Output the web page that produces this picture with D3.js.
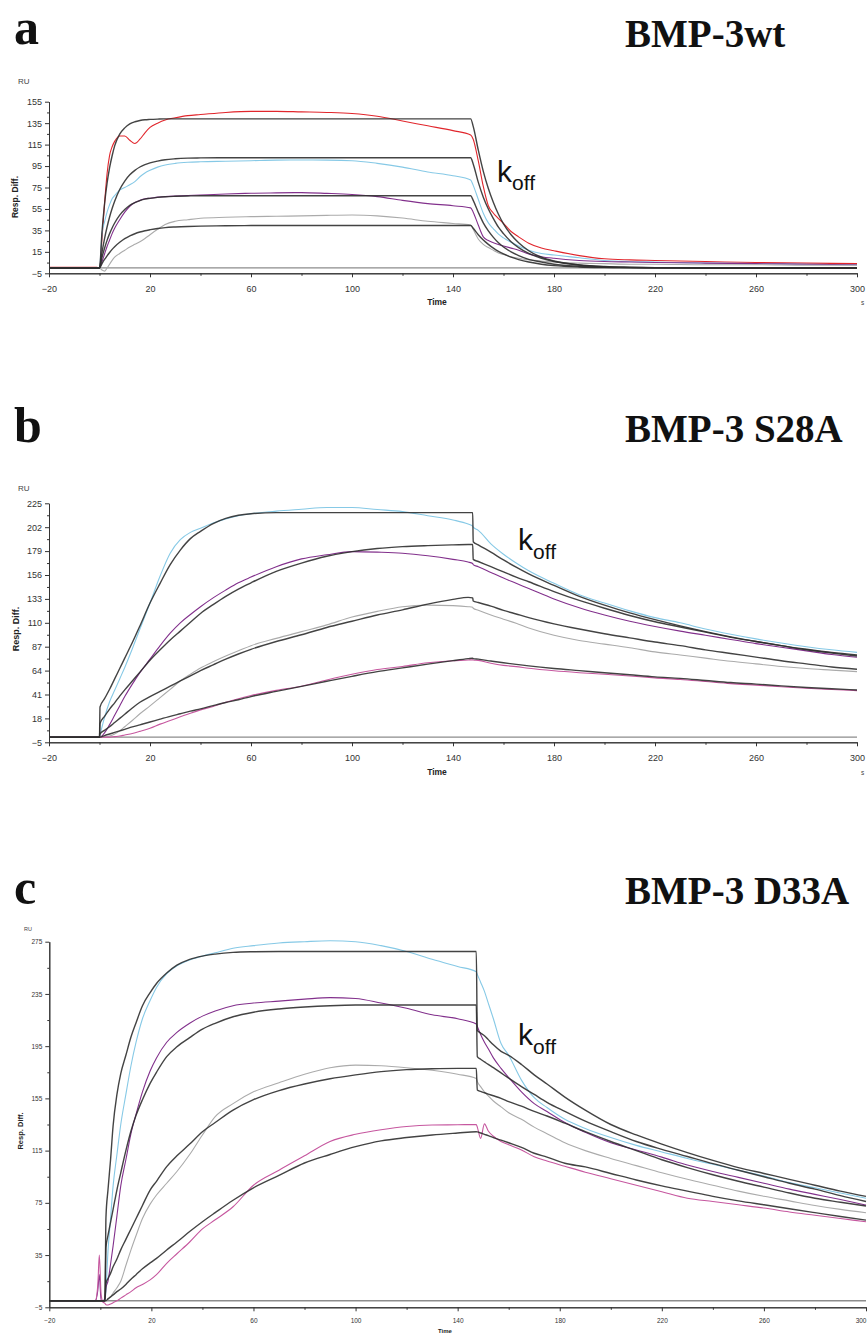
<!DOCTYPE html>
<html>
<head>
<meta charset="utf-8">
<script src="https://cdn.jsdelivr.net/npm/d3@7"></script>
<style>
  body { margin: 0; background: #ffffff; }
  svg { display: block; }
</style>
</head>
<body>
<svg id="fig" width="867" height="1333"></svg>
<script>
// ---------- Panel a : BMP-3wt (time in s, response in RU) ----------
const tA = [-20, -10, -1, 0,
  1, 2, 3, 4, 5, 6,
  8, 10, 12, 14, 16, 18, 20,
  23, 26, 30, 35, 40,
  50, 60, 70, 80, 90, 100, 110, 120, 130, 140,
  147, 148,
  150, 152, 154, 156, 158, 160,
  163, 166, 170, 175, 180,
  190, 200, 210, 220,
  240, 260, 280, 300];
const aRed = [0.5, 0.5, 0.5, 0,
  28, 60, 88, 105, 113, 118,
  123, 123, 119, 116, 120, 126, 131,
  135, 138, 140, 142, 143,
  145, 146, 146, 145.5, 145, 144, 141.5, 137, 132.5, 128,
  124, 120,
  100, 76, 58, 51, 46, 41.5,
  34, 29, 23, 18.5, 16,
  11.5, 8.5, 7.5, 7,
  6, 5, 4.5, 4];
const aCyan = [0, 0, 0, 0,
  32, 43, 52, 59, 64.5, 67.5,
  72.5, 75, 77.5, 80.5, 85, 88.5, 91,
  94, 96, 97.5, 98.5, 99,
  99.5, 100, 100.5, 100.6, 100.5, 100, 97.5, 94, 89.5, 86,
  82, 77,
  64, 51, 42, 36.5, 31.5, 28,
  24, 20.5, 16.5, 13.5, 12,
  9.5, 7, 6, 5.5,
  4.5, 4, 3.5, 3];
const aPurple = [0, 0, 0, 0,
  6, 13, 20, 26, 32, 37,
  45, 52, 57.5, 61, 63, 64.5, 65,
  66, 66.5, 67, 67.5, 68,
  69, 69.6, 70, 70.2, 69.5, 68.5, 66.5, 63, 60, 58,
  56, 52,
  40, 29, 25.5, 23.5, 21.8, 20.5,
  18.5, 16.5, 13, 10.5, 9,
  7, 6, 5.5, 5,
  4.5, 4, 3.5, 3];
const aGray = [0, 0, 0, 0,
  -2, -3, 0, 3.5, 7, 10,
  13.5, 16.5, 19.5, 22, 24.5, 27.5, 31,
  36, 40.5, 43.5, 45, 46.3,
  47.2, 47.8, 48.2, 48.5, 49, 49.3, 48.5, 46.5, 43.5, 41.5,
  40, 36,
  27, 22, 19, 16.5, 14, 12.5,
  10.5, 9, 7.5, 6.5, 5.5,
  4.5, 4, 3.5, 3.5,
  3, 3, 2.5, 2.5];
const aFit1 = [0, 0, 0, 0,
  34, 59.6, 79, 93.5, 104.6, 113.8,
  124.7, 130.6, 134.3, 136.3, 137.5, 138.2, 138.5,
  138.8, 139, 139, 139, 139,
  139, 139, 139, 139, 139, 139, 139, 139, 139, 139,
  139, 132,
  110, 90, 74, 61, 50, 41,
  31, 23.5, 16, 10, 6.5,
  2.7, 1.1, 0.5, 0.2,
  0, 0, 0, 0];
const aFit2 = [0, 0, 0, 0,
  14.8, 27.4, 38.2, 47.5, 55.4, 62.2,
  73.1, 81, 86.8, 91, 94.1, 96.3, 97.9,
  99.6, 100.9, 101.8, 102.4, 102.6,
  102.8, 102.8, 102.8, 102.8, 102.8, 102.8, 102.8, 102.8, 102.8, 102.8,
  102.8, 97,
  80, 66, 55, 46, 38, 32,
  24.5, 19, 13.5, 9, 6,
  2.8, 1.3, 0.6, 0.3,
  0, 0, 0, 0];
const aFit3 = [0, 0, 0, 0,
  9.9, 18.4, 25.7, 32, 37.3, 41.9,
  49.3, 54.5, 58.4, 60.9, 62.8, 64.2, 64.9,
  65.8, 66.4, 66.8, 67.1, 67.3,
  67.3, 67.3, 67.3, 67.3, 67.3, 67.3, 67.3, 67.3, 67.3, 67.3,
  67.3, 63,
  52, 42, 34.5, 28.5, 23.5, 19.5,
  15, 11.5, 8, 5.5, 3.5,
  1.6, 0.7, 0.3, 0.1,
  0, 0, 0, 0];
const aFit4 = [0, 0, 0, 0,
  4.1, 7.9, 11.3, 14.4, 17.3, 19.8,
  23.9, 27.3, 29.8, 31.9, 33.5, 34.7, 35.6,
  36.8, 37.6, 38.2, 38.7, 39,
  39.3, 39.5, 39.5, 39.5, 39.5, 39.5, 39.5, 39.5, 39.5, 39.5,
  39.5, 37,
  31, 26, 22, 18.5, 15.5, 13,
  10, 7.8, 5.5, 3.5, 2.2,
  0.9, 0.4, 0.2, 0.1,
  0, 0, 0, 0];

// ---------- Panel b : BMP-3 S28A ----------
const tB = [-20, -1, 0, 0.2,
  2, 4, 6, 8, 10, 13, 16, 20,
  24, 28, 32, 36, 40, 45, 50, 55, 60,
  70, 80, 90, 100, 110, 120, 130, 140, 146, 147.8,
  148, 150, 155, 160, 165, 170, 180, 190, 200,
  210, 220, 230, 240, 250, 260, 270, 280, 290, 300];
const bCyan = [0, 0, 0, 2,
  19, 34, 45, 56, 67, 85, 104, 129,
  155, 177, 190, 197, 201, 206, 210, 213, 215,
  217.5, 219.3, 221, 221, 219, 217, 213, 209, 205, 203,
  202, 199, 186, 176, 167.5, 160, 148, 137, 129,
  121.5, 115, 110, 104, 99, 94.5, 90.5, 87, 84, 81.5];
const bPurple = [0, 0, 0, 0,
  4, 12, 21, 30, 39, 51, 62, 75,
  88, 100, 110, 118, 125.5, 134, 141.5, 148.5, 154,
  164, 171.5, 175.5, 178.5, 178, 177, 174.5, 171, 168.5, 167,
  166, 164, 158.5, 153, 148, 143, 133, 124.5, 117.5,
  111.5, 106.5, 102, 98, 94, 90, 86.5, 83, 79.5, 76.8];
const bGray = [0, 0, 0, 0,
  0, 1, 3, 6, 10, 16, 22.5, 30,
  38, 46, 54, 60.5, 66.5, 72.5, 78, 83, 88,
  95, 101.5, 108, 115.5, 121, 125.5, 127, 126.5, 125.5, 125,
  124, 122, 117.5, 113.5, 109.5, 105, 98, 93, 89.5,
  86, 82, 79, 76, 73, 70.5, 68, 66, 64.5, 63];
const bMagenta = [0, 0, 0, 0,
  0, 0, 0.5, 1, 2, 3.5, 5.5, 8.5,
  12.5, 16, 19.5, 23, 26.2, 29.5, 33.5, 37, 40,
  45, 49, 55, 60.5, 65, 68, 71.5, 73.5, 74.2, 74.5,
  74.2, 73.8, 71, 69, 67.8, 66.2, 63.8, 62, 60.5,
  58.8, 57, 55.5, 53.5, 51.5, 50, 48.5, 47, 45.8, 44.7];
const bFit1 = [0, 0, 0, 29,
  37, 46, 56, 66, 76, 91, 107, 129,
  148, 166, 180, 191, 198, 205.5, 210.5, 213.5, 215,
  216, 216, 216, 216, 216, 216, 216, 216, 216, 216,
  188, 185, 178, 170.5, 163.5, 157, 146, 135.5, 127,
  119.5, 113, 107, 101.5, 96.5, 92, 88, 84.5, 81.5, 79];
const bFit2 = [0, 0, 0, 13,
  20, 27, 33, 39.5, 45.5, 54, 62.5, 74,
  84, 93.5, 102, 110.5, 119, 127.5, 135.5, 142.5, 148.5,
  159.5, 167.5, 174, 178.5, 181.5, 183.3, 184.3, 185, 185.3, 185.5,
  171, 169, 164, 159, 154, 149.5, 140, 131.5, 124,
  117, 111, 106, 101, 96, 92, 88, 84, 81, 78];
const bFit3 = [0, 0, 0, 3,
  6.5, 10, 14, 18, 22, 28, 33.5, 39,
  44, 49, 54, 59, 64, 69.5, 75, 80, 84.5,
  92, 98.5, 105.5, 111.5, 117.5, 122.5, 128, 132.5, 134.5, 134,
  131, 129.5, 126, 122, 118.5, 115, 109, 104, 99.5,
  95.5, 91.5, 88, 84, 80.5, 77, 73.5, 70.5, 67.5, 65.3];
const bFit4 = [0, 0, 0, 0,
  1.5, 3, 4.5, 6, 7.5, 9.8, 11.8, 14.5,
  17.3, 20, 22.5, 25, 27.2, 30.3, 33.3, 36, 39,
  44, 48.8, 53.7, 58.5, 63, 66.6, 70.2, 73.6, 75.5, 76,
  75.5, 75, 73.2, 71.5, 70, 68.5, 66, 64, 62,
  60, 58, 56.5, 54.5, 52.5, 51, 49.3, 47.8, 46.5, 45.3];

// ---------- Panel c : BMP-3 D33A ----------
const tC = [-20, -5, -2, -1, -0.4, 0.3, 1, 1.8, 2.2,
  3, 4, 5, 6.5, 8, 10, 12, 14, 16.5, 19.5,
  22, 26, 30, 35, 40, 45, 52, 60, 70, 80,
  90, 100, 110, 120, 130, 140,
  147.3, 147.7, 149, 150.5, 152, 154, 157, 160,
  165, 170, 175, 182, 190, 200,
  210, 220, 230, 240, 250, 260, 270, 280, 290, 300];
const cCyan = [0, 0, 0, 0, 0, 0, 0, 0.6, 8,
  38, 63, 88, 112, 135, 158, 180, 198, 216, 230,
  240, 250.5, 256.5, 261, 264, 266.5, 270, 272, 274, 275,
  275.7, 275, 272, 267.5, 261.5, 256,
  252, 250, 244, 237, 228, 216, 197, 188,
  169, 155.5, 148, 139, 132, 125,
  119, 114, 109, 104.5, 100, 95.5, 90.5, 86.5, 82.5, 78.5];
const cPurple = [0, 0, 0, 8, 20, 0, 0, 2, 10,
  15, 28, 42, 65, 88, 108, 128, 143, 160, 176,
  186, 198, 205.5, 212.5, 218, 222, 226, 228, 229.5, 231,
  232.2, 231.5, 228, 224, 219, 216,
  212, 210, 204, 198, 193, 186, 178, 171,
  160, 151, 145, 136.5, 129, 121,
  115.5, 110, 104, 99, 94.5, 90, 85.5, 81.5, 77.5, 73.3];
const cGray = [0, 0, 0, 0, 0, 0, 0, 0, 0,
  1, 3, 6, 10, 15, 27, 39, 50, 63, 74,
  81, 90, 99, 112, 127, 141, 151, 160, 167, 173.5,
  178.5, 180.5, 180, 178.5, 176.5, 173.5,
  170.3, 168, 164, 160, 157, 153, 148.5, 144,
  139, 133, 128, 121, 115, 109,
  103.5, 98, 93, 88.5, 84, 80, 76.5, 73, 70, 67.4];
const cMagenta = [0, 0, 0, 12, 35, 5, -1, -2, -3,
  -3.2, -2.5, -1.5, 0, 2, 4.5, 7, 10, 12.5, 16,
  20, 28.7, 36, 45, 55, 62, 72, 88.5, 100, 111,
  122, 127.5, 131, 133.5, 134.6, 134.8,
  135, 133, 124.4, 135.5, 130, 126, 122, 119.5,
  115.5, 110.3, 107, 103, 98.5, 93.5,
  88.5, 83.5, 78.5, 76, 73.5, 71, 68, 65.5, 63, 60.5];
const cFit1 = [0, 0, 0, 0, 0, 0, 0, 0, 64,
  85, 108, 134, 158, 174, 188, 202, 213, 226, 236,
  243, 251, 257, 261.5, 264, 265.5, 266.8, 267.3, 267.5, 267.5,
  267.5, 267.5, 267.5, 267.5, 267.5, 267.5,
  267.5, 207, 205, 203, 200, 196, 191, 188,
  181, 173, 166, 156, 146, 135,
  127, 120, 113.5, 107.5, 102, 97.5, 93, 88.5, 84, 80];
const cFit2 = [0, 0, 0, 0, 0, 0, 0, 0, 41,
  50, 60, 70, 85, 98, 115, 130, 142, 154, 166.5,
  175, 187, 194.5, 201.5, 208, 212.5, 217.5, 221, 223.5, 225,
  226, 226.5, 226.5, 226.5, 226.5, 226.5,
  226.5, 187, 185, 183, 181, 178.5, 174.5, 170.5,
  164, 158, 152, 145, 137.5, 129.5,
  122, 116, 110.5, 105, 100, 95, 90, 85.5, 80.5, 76];
const cFit3 = [0, 0, 0, 0, 0, 0, 0, 0, 13.4,
  17, 21, 26, 32, 39, 47, 55, 63, 73, 84.8,
  91.5, 102.7, 111, 120, 129.5, 136.5, 146, 154, 161, 166,
  170, 173, 175.5, 177, 177.7, 178,
  178, 161.4, 160.3, 159.3, 158.3, 157, 155, 152.5,
  149, 145, 141.5, 136, 129.5, 122,
  115, 108, 102, 96.5, 91.5, 87, 82.5, 78.5, 75.5, 72.6];
const cFit4 = [0, 0, 0, 0, 0, 0, 0, 0, 0,
  1.5, 3, 4.5, 7, 9, 12.5, 16.5, 20, 24.5, 29,
  32.5, 38.9, 45, 53, 60.5, 67.5, 77, 86.5, 96, 105.5,
  112, 118, 122.5, 125, 127, 128.5,
  129.5, 129.3, 128.5, 127.5, 126.5, 125, 123, 121,
  117.5, 113, 110, 105.3, 102.5, 97.5,
  92.5, 88, 84, 80, 76.5, 73.5, 70.5, 67.5, 64.5, 61.8];

// ---------- shared axis ticks ----------
const xMajor = [-20, 20, 60, 100, 140, 180, 220, 260, 300];
const xMinor = [0, 40, 80, 120, 160, 200, 240, 280];
const yTicksA = [-5, 15, 35, 55, 75, 95, 115, 135, 155];
const yTicksB = [-5, 18, 41, 64, 87, 110, 133, 156, 179, 202, 225];
const yTicksC = [-5, 35, 75, 115, 155, 195, 235, 275];

// ---------- styles ----------
const RED = "#e1262c", CYAN = "#86c9e6", PURPLE = "#82308c", GRAY = "#ababab",
      MAGENTA = "#c6579f", FIT = "#2f2f2f", BASE = "#8c8c8c";

const panels = [
  {
    letter: "a", letterY: 44, title: "BMP-3wt", titleY: 46.5,
    xr: [49, 857], yr: [273.3, 101.7], yDom: [-5, 155],
    yTicks: yTicksA, tickFont: 9, t: tA,
    data: [[aRed, RED], [aCyan, CYAN], [aPurple, PURPLE], [aGray, GRAY]],
    fits: [aFit1, aFit2, aFit3, aFit4],
    ru: [18, 84], resp: [18, 197, 8.5], time: [437, 305], sMark: [861, 305],
    xLabY: 292, koff: [497, 181.5]
  },
  {
    letter: "b", letterY: 442, title: "BMP-3 S28A", titleY: 442,
    xr: [49, 857], yr: [742.3, 503.3], yDom: [-5, 225],
    yTicks: yTicksB, tickFont: 9, t: tB,
    data: [[bCyan, CYAN], [bPurple, PURPLE], [bGray, GRAY], [bMagenta, MAGENTA]],
    fits: [bFit1, bFit2, bFit3, bFit4],
    ru: [18, 491], resp: [18.5, 629, 9], time: [437, 775], sMark: [861, 775],
    xLabY: 760.5, koff: [518, 550]
  },
  {
    letter: "c", letterY: 904, title: "BMP-3 D33A", titleY: 904,
    xr: [49.3, 866], yr: [1307.3, 941.7], yDom: [-5, 275],
    yTicks: yTicksC, tickFont: 6.5, t: tC,
    data: [[cCyan, CYAN], [cPurple, PURPLE], [cGray, GRAY], [cMagenta, MAGENTA]],
    fits: [cFit1, cFit2, cFit3, cFit4],
    ru: [24, 931], resp: [22.5, 1131, 7.5], time: [445, 1333], sMark: null,
    xLabY: 1322.5, koff: [518, 1045]
  }
];

const svg = d3.select("#fig");
const sans = "'Liberation Sans', Arial, sans-serif";
const serif = "'Liberation Serif', 'Times New Roman', serif";

panels.forEach(p => {
  const g = svg.append("g");
  const x = d3.scaleLinear().domain([-20, 300]).range(p.xr);
  const y = d3.scaleLinear().domain(p.yDom).range(p.yr);

  // panel letter and title
  g.append("text").attr("x", 14).attr("y", p.letterY)
    .attr("font-family", serif).attr("font-weight", "bold").attr("font-size", 50)
    .attr("fill", "#111").text(p.letter);
  g.append("text").attr("x", 625).attr("y", p.titleY)
    .attr("font-family", serif).attr("font-weight", "bold").attr("font-size", 39)
    .attr("fill", "#111").text(p.title);

  // zero baseline
  g.append("line")
    .attr("x1", x(-20)).attr("x2", x(300))
    .attr("y1", y(0)).attr("y2", y(0))
    .attr("stroke", BASE).attr("stroke-width", 1.3);

  const line = vals => d3.line()
    .x((d, i) => x(p.t[i]))
    .y(d => y(d))
    .curve(d3.curveMonotoneX)(vals);

  // sensorgrams
  p.data.forEach(([vals, col]) => {
    g.append("path").attr("d", line(vals))
      .attr("fill", "none").attr("stroke", col).attr("stroke-width", 1.1);
  });
  // fitted curves
  p.fits.forEach(vals => {
    g.append("path").attr("d", line(vals))
      .attr("fill", "none").attr("stroke", FIT).attr("stroke-width", 1.4)
      .attr("stroke-opacity", 0.9);
  });

  // axes
  const step = p.yTicks[1] - p.yTicks[0];
  const yMinor = p.yTicks.slice(0, -1).map(v => v + step / 2);
  const yAxis = d3.axisLeft(y).tickValues(p.yTicks).tickSize(4).tickSizeOuter(0).tickPadding(3);
  const yAxisMinor = d3.axisLeft(y).tickValues(yMinor).tickSize(2).tickSizeOuter(0).tickFormat("");
  const xAxis = d3.axisBottom(x).tickValues(xMajor).tickSize(4).tickSizeOuter(0).tickPadding(3);
  const xAxisMinor = d3.axisBottom(x).tickValues(xMinor).tickSize(2.5).tickSizeOuter(0).tickFormat("");

  const gy = g.append("g").attr("transform", `translate(${p.xr[0]},0)`).call(yAxis);
  g.append("g").attr("transform", `translate(${p.xr[0]},0)`).call(yAxisMinor);
  const gx = g.append("g").attr("transform", `translate(0,${p.yr[0]})`).call(xAxis);
  g.append("g").attr("transform", `translate(0,${p.yr[0]})`).call(xAxisMinor);

  g.selectAll(".domain").attr("stroke", "#333").attr("stroke-width", 1);
  g.selectAll(".tick line").attr("stroke", "#333");
  [gy, gx].forEach(a => a.selectAll("text")
    .attr("font-family", sans).attr("font-size", p.tickFont).attr("fill", "#333"));
  gx.selectAll("text").attr("dy", null).attr("y", null)
    .attr("transform", `translate(0,${p.xLabY - p.yr[0]})`);
  // keep the last time label inside the page when the axis runs to the edge
  gx.selectAll("text").filter(d => d === 300 && x(300) > 860)
    .attr("text-anchor", "end").attr("x", 866 - x(300));

  // axis titles
  g.append("text").attr("x", p.ru[0]).attr("y", p.ru[1])
    .attr("font-family", sans).attr("font-size", p.tickFont - 1).attr("fill", "#444").text("RU");
  g.append("text")
    .attr("transform", `translate(${p.resp[0]},${p.resp[1]}) rotate(-90)`)
    .attr("text-anchor", "middle").attr("font-family", sans).attr("font-weight", "bold")
    .attr("font-size", p.resp[2]).attr("fill", "#222").text("Resp. Diff.");
  g.append("text").attr("x", p.time[0]).attr("y", p.time[1]).attr("text-anchor", "middle")
    .attr("font-family", sans).attr("font-weight", "bold")
    .attr("font-size", p.tickFont - 0.5).attr("fill", "#222").text("Time");
  if (p.sMark) {
    g.append("text").attr("x", p.sMark[0]).attr("y", p.sMark[1])
      .attr("font-family", sans).attr("font-size", 6.5).attr("fill", "#444").text("s");
  }

  // dissociation rate label
  const k = g.append("text").attr("x", p.koff[0]).attr("y", p.koff[1])
    .attr("font-family", sans).attr("font-size", 30).attr("fill", "#111");
  k.append("tspan").text("k");
  k.append("tspan").attr("font-size", 21).attr("dy", 8.5).text("off");
});
</script>
</body>
</html>
